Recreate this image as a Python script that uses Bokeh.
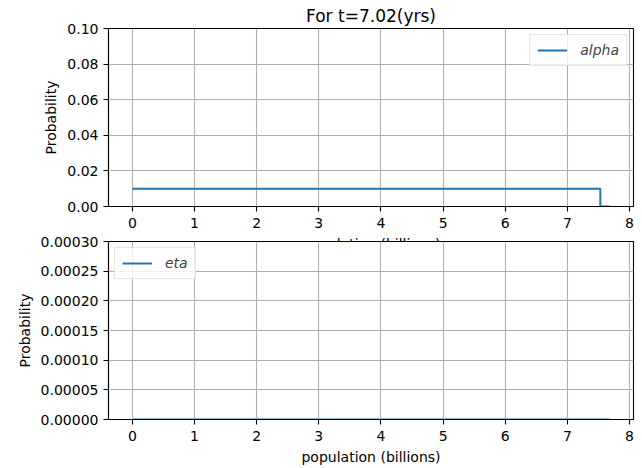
from bokeh.plotting import figure
from bokeh.layouts import column
from bokeh.models import Range1d, FixedTicker, PrintfTickFormatter, Legend, LegendItem
from bokeh.embed import file_html
from bokeh.resources import INLINE

title_text = "For t=7.02(yrs)"
x_label = "population (billions)"
y_label = "Probability"

# alpha distribution (uniform then drops to zero)
alpha_population = [0.0, 7.53, 7.53, 7.68]
alpha_prob = [0.01, 0.01, 0.0, 0.0]

# eta distribution (essentially zero)
eta_population = [0.0, 7.68]
eta_prob = [0.0, 0.0]

x_ticks = [0, 1, 2, 3, 4, 5, 6, 7, 8]
alpha_ticks = [0.0, 0.02, 0.04, 0.06, 0.08, 0.10]
eta_ticks = [0.0, 0.00005, 0.0001, 0.00015, 0.0002, 0.00025, 0.0003]

FONT = "DejaVu Sans"
LINE = "#1f77b4"


def style(p, yticks, fmt):
    p.xaxis.ticker = FixedTicker(ticks=x_ticks)
    p.yaxis.ticker = FixedTicker(ticks=yticks)
    p.yaxis.formatter = PrintfTickFormatter(format=fmt)
    for ax in p.axis:
        ax.major_label_text_font = FONT
        ax.major_label_text_font_size = "14px"
        ax.major_label_text_color = "black"
        ax.axis_label_text_font = FONT
        ax.axis_label_text_font_size = "14px"
        ax.axis_label_text_font_style = "normal"
        ax.axis_label_text_color = "black"
        ax.axis_line_color = "black"
        ax.axis_line_width = 1.1
        ax.major_tick_line_color = "black"
        ax.major_tick_line_width = 1.1
        ax.major_tick_in = 0
        ax.major_tick_out = 5
        ax.minor_tick_line_color = None
        ax.major_label_standoff = 5
        ax.axis_label_standoff = 5
    p.xaxis.major_label_standoff = 6
    p.grid.grid_line_color = "#b0b0b0"
    p.grid.grid_line_width = 1.1
    p.grid.grid_line_alpha = 1.0
    p.outline_line_color = "black"
    p.outline_line_width = 1.1
    p.outline_line_alpha = 1.0
    p.background_fill_color = "white"


def make_legend(r, label, loc):
    lg = Legend(items=[LegendItem(label=label, renderers=[r])], location=loc)
    lg.label_text_font = FONT
    lg.label_text_font_style = "italic"
    lg.label_text_font_size = "14px"
    lg.border_line_color = "#cccccc"
    lg.border_line_width = 1
    lg.background_fill_alpha = 0.8
    lg.padding = 7
    lg.spacing = 0
    lg.margin = 6
    lg.glyph_width = 30
    lg.glyph_height = 16
    lg.label_height = 16
    lg.label_standoff = 13
    return lg


p1 = figure(frame_width=525, frame_height=178,
            x_range=Range1d(-0.384, 8.064), y_range=Range1d(0, 0.1),
            output_backend="svg", toolbar_location=None,
            min_border_left=108, min_border_right=9, min_border_top=28,
            min_border_bottom=0)
p1.title.text = title_text
p1.title.align = "center"
p1.title.text_font = FONT
p1.title.text_font_size = "17px"
p1.title.text_font_style = "normal"
p1.title.text_color = "black"
p1.title.standoff = 5
r1 = p1.line(alpha_population, alpha_prob, line_color=LINE, line_width=2)
style(p1, alpha_ticks, "%.2f")
p1.xaxis.axis_label = x_label
p1.yaxis.axis_label = y_label
p1.add_layout(make_legend(r1, "alpha", "top_right"))

p2 = figure(frame_width=525, frame_height=178,
            x_range=Range1d(-0.384, 8.064), y_range=Range1d(0, 0.0003),
            output_backend="svg", toolbar_location=None,
            min_border_left=108, min_border_right=9, min_border_top=10,
            min_border_bottom=0, margin=(-23, 0, 0, 0))
p2.border_fill_alpha = 0.0
r2 = p2.line(eta_population, eta_prob, line_color=LINE, line_width=2)
style(p2, eta_ticks, "%.5f")
p2.xaxis.axis_label = x_label
p2.yaxis.axis_label = y_label
p2.add_layout(make_legend(r2, "eta", "top_left"))

layout = column(p1, p2, spacing=0)

with open("out.html", "w") as f:
    f.write(file_html(layout, INLINE))
